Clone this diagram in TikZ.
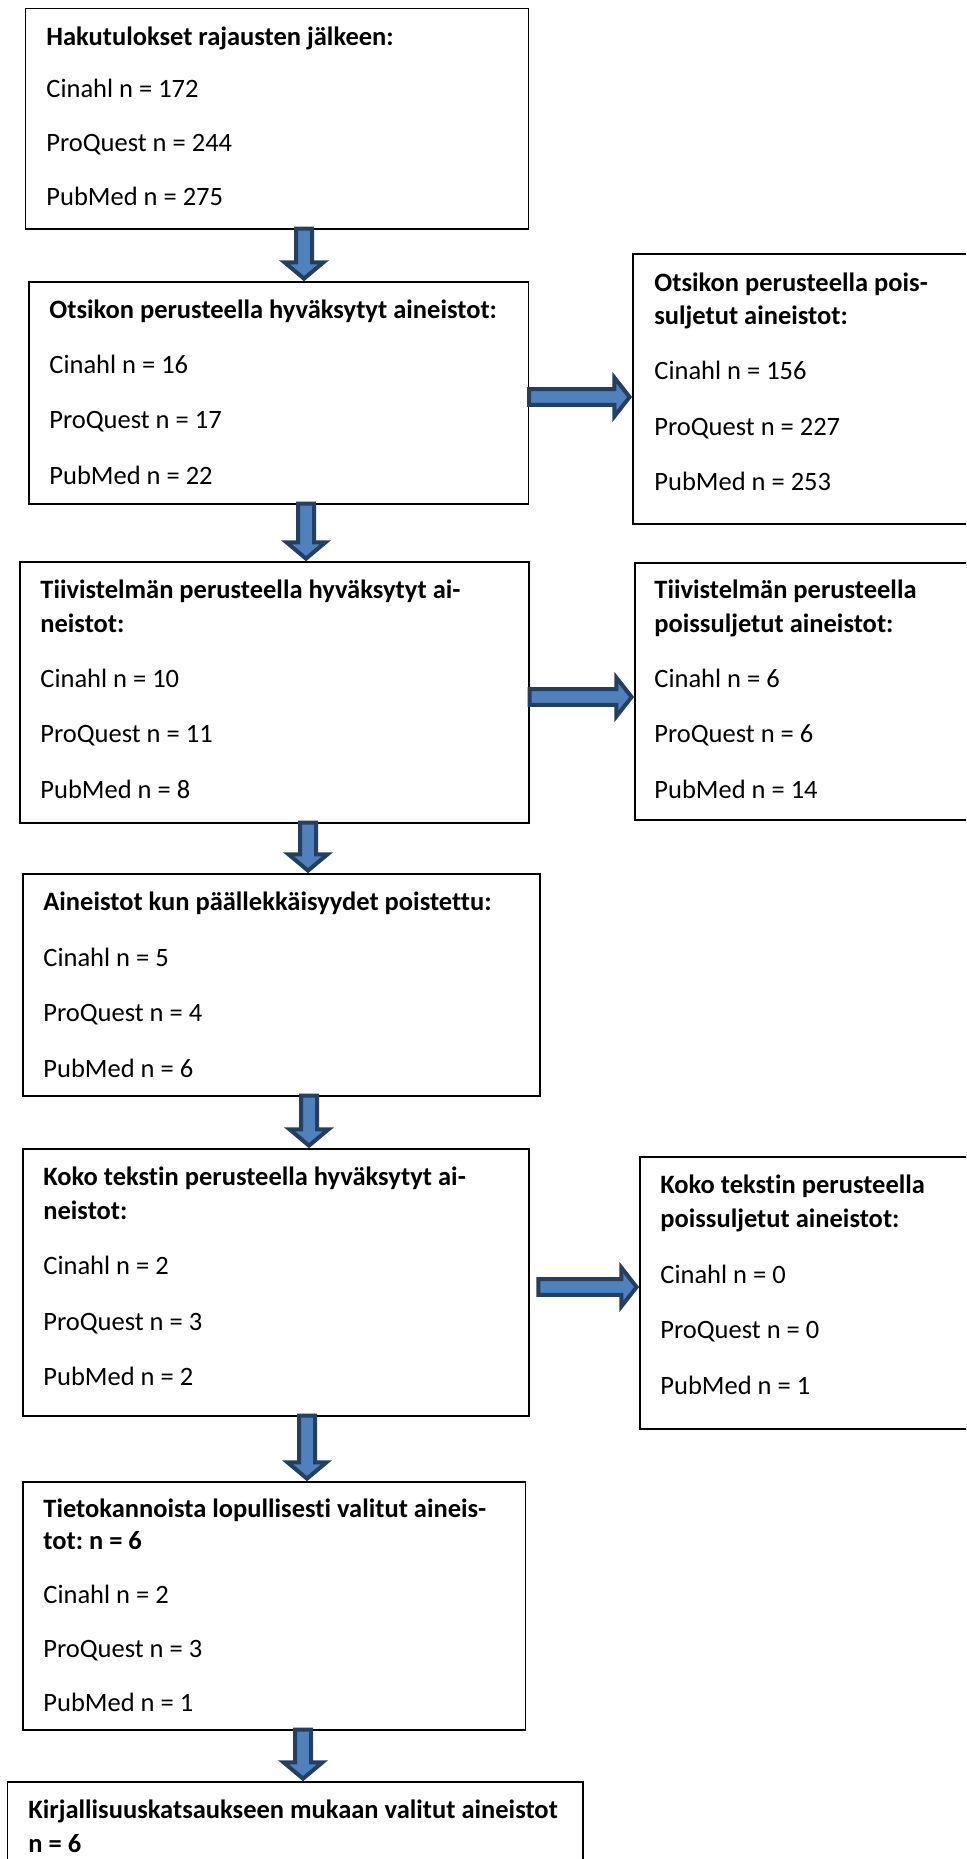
\documentclass[tikz,border=0pt]{standalone}
\usepackage{fontspec}
\setmainfont{Carlito}[Ligatures=NoCommon]
\usetikzlibrary{calc,fit}
\definecolor{arrfill}{HTML}{4F81BD}
\definecolor{arrline}{HTML}{243F60}
\frenchspacing
\tikzset{
  box/.style={draw=black, line width=0.6pt, inner sep=0pt, fill=white},
  txt/.style={anchor=base west, inner sep=0pt, font=\fontsize{13.25pt}{16pt}\selectfont},
  ttl/.style={anchor=base west, inner sep=0pt, font=\fontsize{13.25pt}{16pt}\selectfont\bfseries},
  barrow/.style={draw=arrline, fill=arrfill, line width=2pt, line join=miter},
}
\newcommand\varrow[3]{%
  \draw[barrow] let \p1=(#1.south), \p2=(#2.north), \p3=(#3,0) in
  (\x3-4pt,\y1+0.5pt) -- (\x3-4pt,\y2+9.5pt) -- (\x3-9.7pt,\y2+9.5pt) -- (\x3,\y2+1.4pt)
  -- (\x3+9.7pt,\y2+9.5pt) -- (\x3+4pt,\y2+9.5pt) -- (\x3+4pt,\y1+0.5pt) -- cycle;}
\newcommand\harrow[4]{%
  \draw[barrow] let \p1=(#1.east), \p2=(#2.west), \p3=(0,#3) in
  (\x1+#4*0.5pt,\y3+3.9pt) -- (\x2-9pt,\y3+3.9pt) -- (\x2-9pt,\y3+9.7pt) -- (\x2-1.4pt,\y3)
  -- (\x2-9pt,\y3-9.7pt) -- (\x2-9pt,\y3-3.9pt) -- (\x1+#4*0.5pt,\y3-3.9pt) -- cycle;}
\newcommand\tl[5][txt]{\node[#1] (#2) at (#3,#4) {#5};}
\begin{document}
\begin{tikzpicture}[x=0.5pt,y=-0.5pt]
\useasboundingbox (0,0) rectangle (966,1859);
\clip (0,0) rectangle (966,1859);
\fill[white] (0,0) rectangle (966,1859);

% boxes
\node[box, fit={(25.7,8.3) (528.6,229)}] (b1) {};
\node[box, fit={(29,282) (528.6,504)}] (b2) {};
\node[box, fit={(633,254) (1000,524)}] (r2) {};
\node[box, fit={(20,562) (529,823)}] (b3) {};
\node[box, fit={(635,563) (1000,820)}] (r3) {};
\node[box, fit={(23,874) (540,1096)}] (b4) {};
\node[box, fit={(23,1149) (529,1416)}] (b5) {};
\node[box, fit={(640,1157) (1000,1429)}] (r5) {};
\node[box, fit={(23,1482) (525.6,1730)}] (b6) {};
\node[box, fit={(7.4,1782) (583,1900)}] (b7) {};

% texts box 1
\tl[ttl]{t1a}{46}{45}{Hakutulokset rajausten jälkeen:}
\tl{t1b}{46}{97.7}{Cinahl n = 172}
\tl{t1c}{46}{151.7}{ProQuest n = 244}
\tl{t1d}{46}{205.7}{PubMed n = 275}
% box 2
\tl[ttl]{t2a}{49}{318}{Otsikon perusteella hyväksytyt aineistot:}
\tl{t2b}{49}{373}{Cinahl n = 16}
\tl{t2c}{49}{428}{ProQuest n = 17}
\tl{t2d}{49}{484}{PubMed n = 22}
% right box 2
\tl[ttl]{s2a}{654}{291}{Otsikon perusteella pois-}
\tl[ttl]{s2b}{654}{324}{suljetut aineistot:}
\tl{s2c}{654}{379}{Cinahl n = 156}
\tl{s2d}{654}{435}{ProQuest n = 227}
\tl{s2e}{654}{490}{PubMed n = 253}
% box 3
\tl[ttl]{t3a}{40}{598}{Tiivistelmän perusteella hyväksytyt ai-}
\tl[ttl]{t3b}{40}{632}{neistot:}
\tl{t3c}{40}{687}{Cinahl n = 10}
\tl{t3d}{40}{742}{ProQuest n = 11}
\tl{t3e}{40}{798}{PubMed n = 8}
% right box 3
\tl[ttl]{s3a}{654}{598}{Tiivistelmän perusteella}
\tl[ttl]{s3b}{654}{632}{poissuljetut aineistot:}
\tl{s3c}{654}{687}{Cinahl n = 6}
\tl{s3d}{654}{742}{ProQuest n = 6}
\tl{s3e}{654}{798}{PubMed n = 14}
% box 4
\tl[ttl]{t4a}{43}{910}{Aineistot kun päällekkäisyydet poistettu:}
\tl{t4b}{43}{966}{Cinahl n = 5}
\tl{t4c}{43}{1021}{ProQuest n = 4}
\tl{t4d}{43}{1077}{PubMed n = 6}
% box 5
\tl[ttl]{t5a}{43}{1185}{Koko tekstin perusteella hyväksytyt ai-}
\tl[ttl]{t5b}{43}{1219}{neistot:}
\tl{t5c}{43}{1274}{Cinahl n = 2}
\tl{t5d}{43}{1330}{ProQuest n = 3}
\tl{t5e}{43}{1385}{PubMed n = 2}
% right box 5
\tl[ttl]{s5a}{660}{1193}{Koko tekstin perusteella}
\tl[ttl]{s5b}{660}{1227}{poissuljetut aineistot:}
\tl{s5c}{660}{1283}{Cinahl n = 0}
\tl{s5d}{660}{1338}{ProQuest n = 0}
\tl{s5e}{660}{1394}{PubMed n = 1}
% box 6
\tl[ttl]{t6a}{43}{1517}{Tietokannoista lopullisesti valitut aineis-}
\tl[ttl]{t6b}{43}{1549}{tot: n = 6}
\tl{t6c}{43}{1603}{Cinahl n = 2}
\tl{t6d}{43}{1657}{ProQuest n = 3}
\tl{t6e}{43}{1711}{PubMed n = 1}
% box 7
\tl[ttl]{t7a}{28}{1818}{Kirjallisuuskatsaukseen mukaan valitut aineistot}
\tl[ttl]{t7b}{28}{1852}{n = 6}

% arrows
\varrow{b1}{b2}{304}
\varrow{b2}{b3}{306}
\varrow{b3}{b4}{308}
\varrow{b4}{b5}{309}
\varrow{b5}{b6}{307}
\varrow{b6}{b7}{303}
\harrow{b2}{r2}{397}{0}
\harrow{b3}{r3}{697}{0}
\harrow{b5}{r5}{1287}{8.7}
\end{tikzpicture}
\end{document}
